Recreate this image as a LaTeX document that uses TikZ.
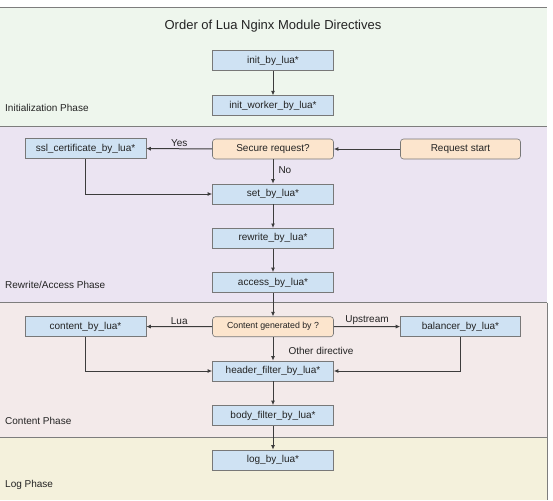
\documentclass[tikz,border=0pt]{standalone}
\usepackage{fontspec}
\setmainfont{Liberation Sans}
\usetikzlibrary{arrows.meta}
\definecolor{initbg}{RGB}{238,246,237}
\definecolor{rewbg}{RGB}{235,228,242}
\definecolor{conbg}{RGB}{243,234,234}
\definecolor{logbg}{RGB}{244,241,220}
\definecolor{boxblue}{RGB}{207,226,243}
\definecolor{boxorange}{RGB}{252,229,205}
\definecolor{edgec}{RGB}{60,60,60}
\definecolor{sepc}{RGB}{125,125,125}
\definecolor{boxline}{RGB}{120,120,120}
\definecolor{txt}{RGB}{35,35,35}
\begin{document}
\begin{tikzpicture}[x=1pt,y=-1pt,
 stepbox/.style={draw=boxline, line width=0.6pt, fill=boxblue, minimum width=121pt, minimum height=20pt, inner sep=0pt, font=\fontsize{10}{12}\selectfont, text=txt},
 decbox/.style={stepbox, fill=boxorange, rounded corners=3pt},
 flow/.style={draw=edgec, line width=1pt, -{Latex[length=4.5pt,width=4pt]}},
 lbl/.style={font=\fontsize{10}{12}\selectfont, text=txt, inner sep=1pt},
 phase/.style={font=\fontsize{10}{12}\selectfont, text=txt, anchor=west, inner sep=0pt}]
\useasboundingbox (0,0) rectangle (553,500);
% bands
\fill[initbg] (0,7) rectangle (547,126);
\fill[rewbg] (0,126) rectangle (547,302.5);
\fill[conbg] (0,302.5) rectangle (547,437);
\fill[logbg] (0,437) rectangle (547,500);
\draw[sepc, line width=0.9pt] (0,7) -- (547,7);
\draw[sepc, line width=0.9pt] (0,126) -- (547,126);
\draw[sepc, line width=0.9pt] (0,302.5) -- (547,302.5);
\draw[sepc, line width=0.9pt] (0,437) -- (547,437);
\draw[sepc, line width=0.9pt] (547,302.5) -- (547,500);
% title and phase labels
\node[font=\fontsize{13}{15}\selectfont, text=txt] (title) at (273,26) {Order of Lua Nginx Module Directives};
\node[phase] (p1) at (5,108) {Initialization Phase};
\node[phase] (p2) at (5,284.5) {Rewrite/Access Phase};
\node[phase] (p3) at (5,420.5) {Content Phase};
\node[phase] (p4) at (5,485) {Log Phase};
% nodes
\node[stepbox] (init) at (273,60.7) {init\_by\_lua*};
\node[stepbox] (initw) at (273,105.7) {init\_worker\_by\_lua*};
\node[stepbox] (ssl) at (85.5,148.5) {ssl\_certificate\_by\_lua*};
\node[decbox] (secure) at (273,149) {Secure request?};
\node[decbox, minimum width=120pt] (start) at (460.5,149) {Request start};
\node[stepbox] (set) at (273,194) {set\_by\_lua*};
\node[stepbox] (rewrite) at (273,238.3) {rewrite\_by\_lua*};
\node[stepbox] (access) at (273,282.5) {access\_by\_lua*};
\node[decbox, font=\fontsize{8.8}{10}\selectfont] (gen) at (273,326.7) {Content generated by ?};
\node[stepbox] (cbl) at (85.5,326.5) {content\_by\_lua*};
\node[stepbox, minimum width=120pt] (bal) at (460.5,326.5) {balancer\_by\_lua*};
\node[stepbox] (hdr) at (273,371) {header\_filter\_by\_lua*};
\node[stepbox] (body) at (273,415.5) {body\_filter\_by\_lua*};
\node[stepbox] (log) at (273,460) {log\_by\_lua*};
% connectors
\draw[flow] (init) -- (initw);
\draw[flow] (start) -- (secure);
\draw[flow] (secure) -- node[lbl, above=1pt] {Yes} (ssl);
\draw[flow] (secure) -- node[lbl, right=4pt, pos=0.45] {No} (set);
\draw[flow] (ssl) |- (set);
\draw[flow] (set) -- (rewrite);
\draw[flow] (rewrite) -- (access);
\draw[flow] (access) -- (gen);
\draw[flow] (gen) -- node[lbl, above=1pt] {Lua} (cbl);
\draw[flow] (gen) -- node[lbl, above=1pt] {Upstream} (bal);
\draw[flow] (gen) -- node[lbl, right=14pt, pos=0.6] {Other directive} (hdr);
\draw[flow] (cbl) |- (hdr);
\draw[flow] (bal) |- (hdr);
\draw[flow] (hdr) -- (body);
\draw[flow] (body) -- (log);
\end{tikzpicture}
\end{document}
